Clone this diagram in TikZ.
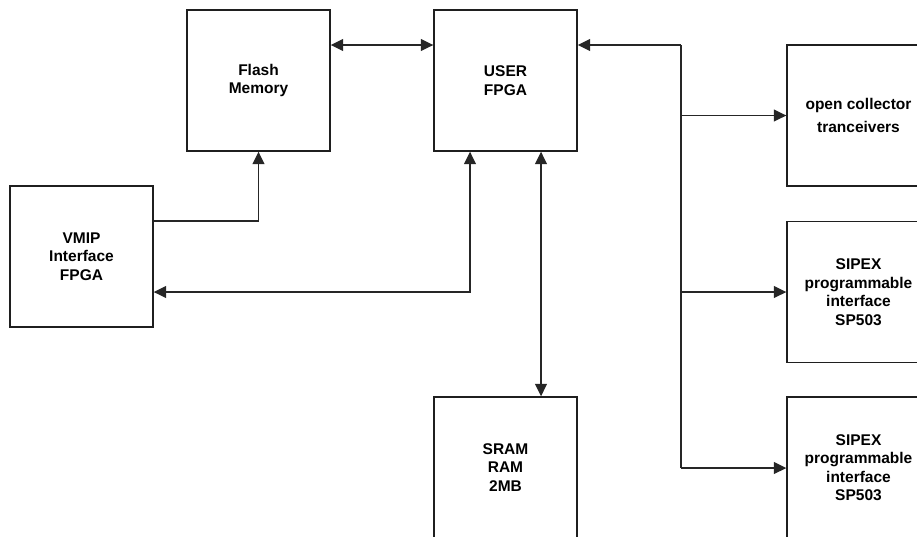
\documentclass[tikz,border=0pt]{standalone}
\usepackage{fontspec}
\setmainfont{Liberation Sans}
\usetikzlibrary{arrows.meta}
\begin{document}
\begin{tikzpicture}[x=1pt,y=-1pt,
  blk/.style={draw=black!88, line width=1.4pt, minimum width=143pt, minimum height=141pt,
    inner sep=0pt, align=center, font=\bfseries\fontsize{15.5}{18.5}\selectfont},
  conn/.style={draw=black!85, line width=1.4pt, line join=miter},
  tip/.style={-{Triangle[length=12.5pt,width=12pt]}},
  tips/.style={{Triangle[length=12.5pt,width=12pt]}-{Triangle[length=12.5pt,width=12pt]}}]
\useasboundingbox (0,0) rectangle (917,536);
\node[blk] (flash) at (258.5,80.5) {Flash\\Memory};
\node[blk] (user) at (505.5,80.5) {USER\\FPGA};
\node[blk] (vmip) at (81.5,256.5) {VMIP\\Interface\\FPGA};
\node[blk, font=\bfseries\fontsize{15.5}{23}\selectfont] (open) at (858.5,115.5) {open collector\\tranceivers};
\node[blk] (sip1) at (858.5,292) {SIPEX\\programmable\\interface\\SP503};
\node[blk] (sip2) at (858.5,467.5) {SIPEX\\programmable\\interface\\SP503};
\node[blk] (sram) at (505.5,467.5) {SRAM\\RAM\\2MB};
\coordinate (bustop) at (681,45);
\coordinate (busbot) at (681,468);
% Flash <-> USER
\draw[conn, tips] (flash.east |- bustop) -- (user.west |- bustop);
% bus to USER
\draw[conn, tip] (bustop) -- (user.east |- bustop);
\draw[conn] (bustop) -- (busbot);
\draw[conn, tip] (open.west -| bustop) -- (open.west);
\draw[conn, tip] (sip1.west -| bustop) -- (sip1.west);
\draw[conn, tip] (busbot) -- (sip2.west |- busbot);
% VMIP -> Flash
\draw[conn, tip] ([yshift=35.5pt]vmip.east) -| (flash.south);
% USER <-> VMIP
\draw[conn, tips] ([xshift=-35.5pt]user.south) |- ([yshift=-35.5pt]vmip.east);
% USER <-> SRAM
\draw[conn, tips] ([xshift=35.5pt]user.south) -- ([xshift=35.5pt]sram.north);
\end{tikzpicture}
\end{document}
